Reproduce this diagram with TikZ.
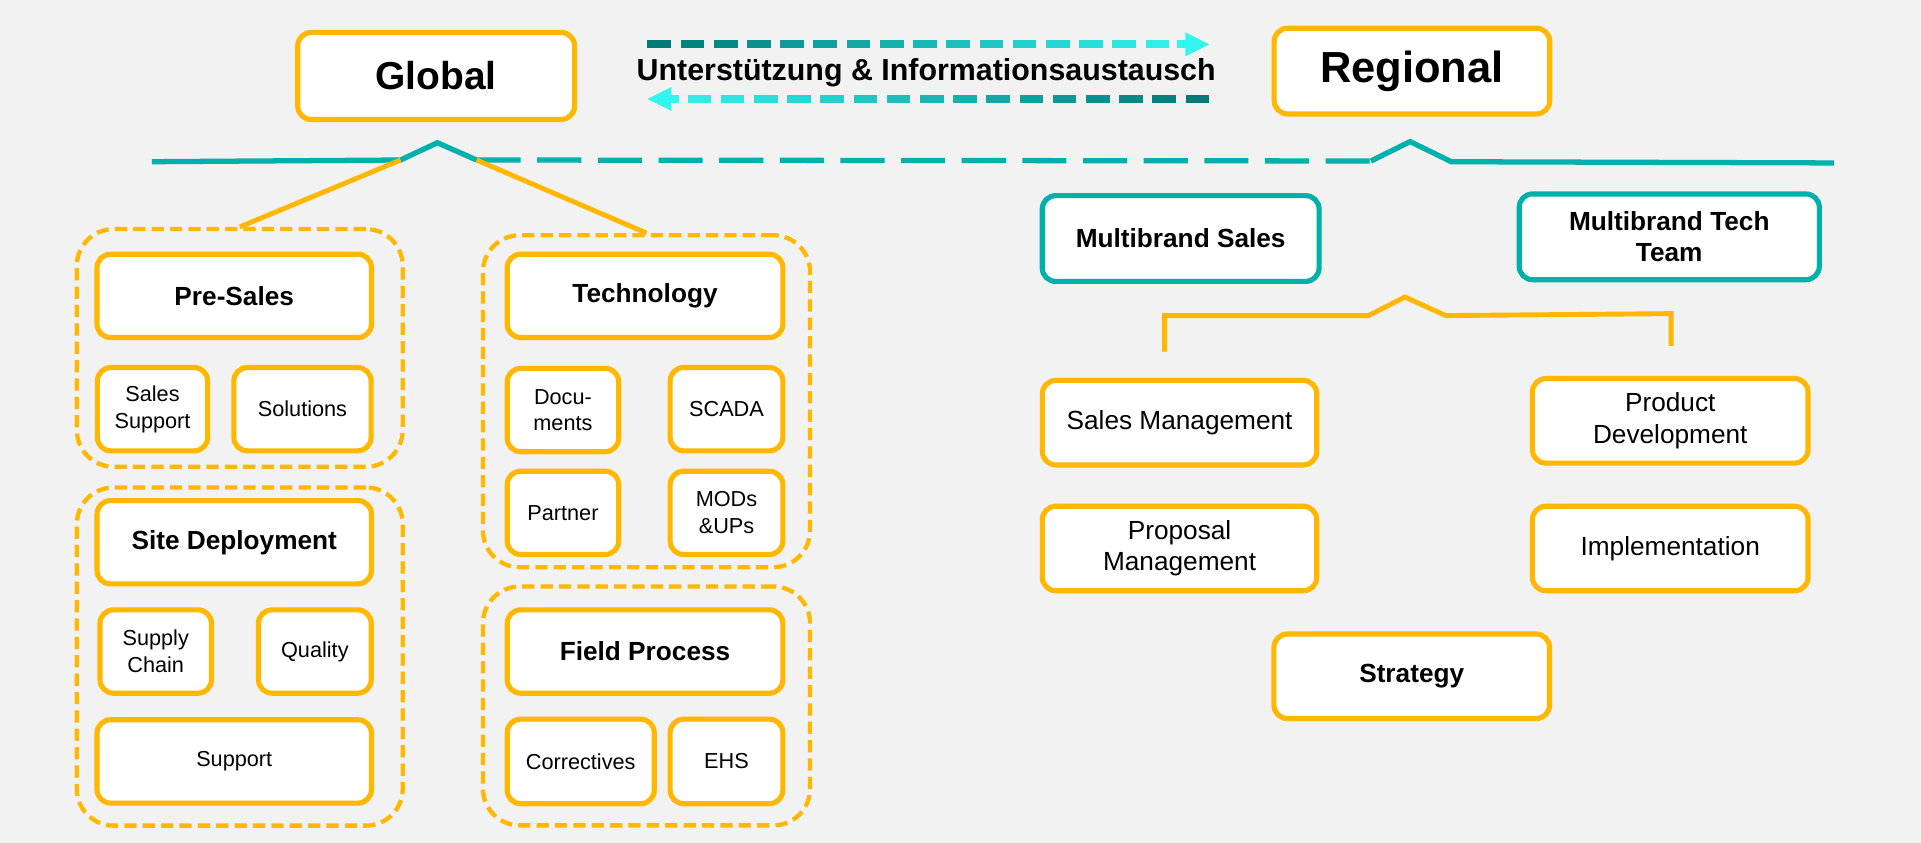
\documentclass[tikz,border=0pt]{standalone}
\usepackage{fontspec}
\setmainfont{Liberation Sans}
\definecolor{bgc}{RGB}{242,242,242}
\definecolor{org}{RGB}{255,183,0}
\definecolor{tealc}{RGB}{0,176,170}
\definecolor{darkt}{RGB}{0,122,118}
\definecolor{cyanc}{RGB}{51,245,240}
\begin{document}
\begin{tikzpicture}[x=1pt,y=-1pt,
  box/.style={draw=org, line width=4.2pt, rounded corners=11pt, fill=white, align=center, inner sep=0pt},
  tbox/.style={box, draw=tealc},
  grp/.style={draw=org, line width=3.5pt, rounded corners=30pt, dash pattern=on 10pt off 5pt, inner sep=0pt},
  fglob/.style={font=\fontsize{31.8}{38}\selectfont\bfseries},
  freg/.style={font=\fontsize{35.5}{42}\selectfont\bfseries},
  flab/.style={font=\fontsize{24.8}{30}\selectfont\bfseries},
  hb/.style={font=\fontsize{21.4}{25.6}\selectfont\bfseries},
  sm/.style={font=\fontsize{17.7}{21.8}\selectfont},
  rn/.style={font=\fontsize{21.4}{25.6}\selectfont},
  tline/.style={draw=tealc, line width=4.3pt},
  oline/.style={draw=org, line width=4pt},
  adash/.style={line width=6.3pt}
]
\fill[bgc] (0,0) rectangle (1568,688);
\useasboundingbox (0,0) rectangle (1568,688);

% top boxes
\node[box, fglob, minimum width=226pt, minimum height=71pt] (global) at (356,62) {Global};
\node[box, freg, minimum width=225pt, minimum height=70pt] (regional) at (1152.5,58) {Regional};

% exchange label and arrows
\node[flab, inner sep=0pt] (lab) at (756,59) {Unterstützung \& Informationsaustausch};
\foreach \i in {0,...,15}{
  \pgfmathsetmacro\p{100*\i/16}
  \pgfmathsetmacro\xa{528.5+27.1*\i}
  \draw[adash, draw=cyanc!\p!darkt] (\xa,36.2) -- ++(19.3,0);
  \pgfmathsetmacro\xb{987-27.1*\i}
  \draw[adash, draw=cyanc!\p!darkt] (\xb,80.8) -- ++(-19.3,0);
}
\coordinate (ra) at (987,36.2);
\coordinate (la) at (528.5,80.8);
\draw[adash, draw=cyanc] (961,36.2) -- (968,36.2);
\fill[cyanc] (ra) -- ++(-19.4,-9.7) -- ++(0,19.4) -- cycle;
\draw[adash, draw=cyanc] (547,80.8) -- (554,80.8);
\fill[cyanc] (la) -- ++(19.4,-9.7) -- ++(0,19.4) -- cycle;

% teal divider line
\coordinate (t0) at (124,132);
\coordinate (t1) at (327,130.6);
\coordinate (t2) at (357,116.5);
\coordinate (t3) at (389,130.6);
\coordinate (t4) at (1119,131.4);
\coordinate (t5) at (1151,115.6);
\coordinate (t6) at (1184.6,132);
\coordinate (t7) at (1497,133);
\draw[tline] (t0) -- (t1) -- (t2) -- (t3);
\draw[tline, dash pattern=on 36pt off 13.5pt] (t3) -- (t4);
\draw[tline] (t4) -- (t5) -- (t6) -- (t7);

% left groups
\node[grp, minimum width=266pt, minimum height=194pt] (gpre) at (195.7,284) {};
\node[grp, minimum width=266pt, minimum height=276pt] (gsite) at (195.7,535.9) {};
\node[grp, minimum width=267pt, minimum height=271pt] (gtech) at (527.7,327.5) {};
\node[grp, minimum width=267pt, minimum height=195pt] (gfield) at (527.7,576.2) {};

\draw[oline] (t1) -- (gpre.north);
\draw[oline] (t3) -- (gtech.north);

% left boxes
\node[box, hb, minimum width=224pt, minimum height=68pt] (presales) at (191.2,241.5) {Pre-Sales};
\node[box, sm, minimum width=90pt, minimum height=68pt] (salessup) at (124.5,334) {Sales\\Support};
\node[box, sm, minimum width=112pt, minimum height=68pt] (solutions) at (246.9,334) {Solutions};
\node[box, hb, minimum width=224pt, minimum height=68pt] (site) at (191.2,442.6) {Site Deployment};
\node[box, sm, minimum width=91pt, minimum height=68pt] (supply) at (127.1,531.8) {Supply\\Chain};
\node[box, sm, minimum width=92pt, minimum height=68pt] (quality) at (257,531.8) {Quality};
\node[box, sm, minimum width=224pt, minimum height=68pt] (support) at (191.2,621.5) {Support};

\node[box, hb, minimum width=225pt, minimum height=68pt] (tech) at (526.5,241.5) {Technology};
\node[box, sm, minimum width=91pt, minimum height=68pt] (docs) at (459.5,334.7) {Docu-\\ments};
\node[box, sm, minimum width=92pt, minimum height=68pt] (scada) at (593,334) {SCADA};
\node[box, sm, minimum width=91pt, minimum height=68pt] (partner) at (459.5,418.6) {Partner};
\node[box, sm, minimum width=92pt, minimum height=68pt] (mods) at (593,418.6) {MODs\\\&UPs};
\node[box, hb, minimum width=225pt, minimum height=68pt] (field) at (526.5,531.8) {Field Process};
\node[box, sm, minimum width=120pt, minimum height=69pt] (correct) at (474,621.5) {Correctives};
\node[box, sm, minimum width=92pt, minimum height=69pt] (ehs) at (593,621.5) {EHS};

% right side
\node[tbox, hb, minimum width=226pt, minimum height=70pt] (mbsales) at (963.7,194.7) {Multibrand Sales};
\node[tbox, hb, minimum width=245pt, minimum height=70pt] (mbtech) at (1362.5,193.3) {Multibrand Tech\\Team};

\coordinate (b0) at (950.6,287);
\coordinate (b1) at (950.6,257.6);
\coordinate (b2) at (1117,257.6);
\coordinate (b3) at (1146.8,242.4);
\coordinate (b4) at (1180,257.6);
\coordinate (b5) at (1364,256);
\coordinate (b6) at (1364,282.3);
\draw[oline] (b0) -- (b1) -- (b2) -- (b3) -- (b4) -- (b5) -- (b6);

\node[box, rn, minimum width=224pt, minimum height=69pt] (salesmgmt) at (962.8,345) {Sales Management};
\node[box, rn, minimum width=225pt, minimum height=69pt] (proddev) at (1363.3,343.5) {Product\\Development};
\node[box, rn, minimum width=224pt, minimum height=69pt] (propmgmt) at (962.8,447.7) {Proposal\\Management};
\node[box, rn, minimum width=225pt, minimum height=69pt] (impl) at (1363.3,447.7) {Implementation};
\node[box, hb, minimum width=225pt, minimum height=69pt] (strategy) at (1152.3,552) {Strategy};
\end{tikzpicture}
\end{document}
